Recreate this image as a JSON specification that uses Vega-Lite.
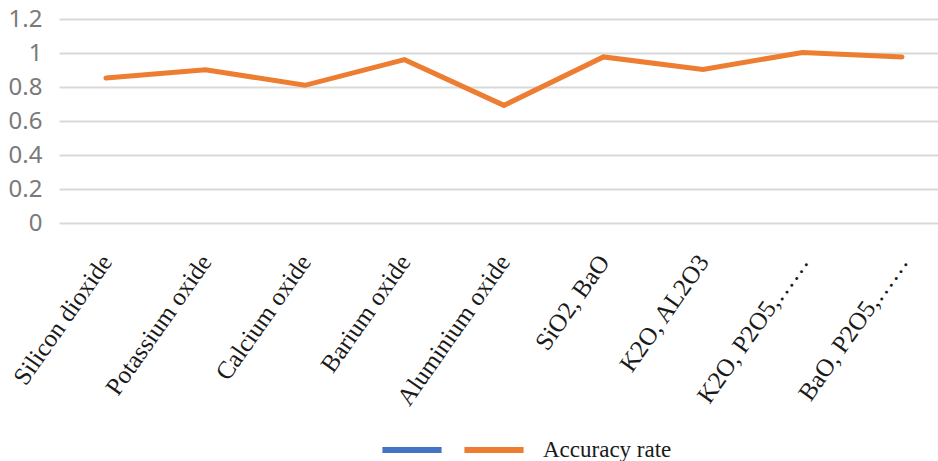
{
  "$schema": "https://vega.github.io/schema/vega-lite/v6.json",
  "autosize": {"type": "none"},
  "padding": {"left": 59, "top": 19, "right": 0, "bottom": 238},
  "width": 879,
  "height": 204,
  "background": "white",
  "config": {"view": {"stroke": null}},
  "data": {
    "values": [
      {"component": "Silicon dioxide", "series": "Accuracy rate", "rate": 0.853},
      {"component": "Potassium oxide", "series": "Accuracy rate", "rate": 0.902},
      {"component": "Calcium oxide", "series": "Accuracy rate", "rate": 0.81},
      {"component": "Barium oxide", "series": "Accuracy rate", "rate": 0.961},
      {"component": "Aluminium oxide", "series": "Accuracy rate", "rate": 0.692},
      {"component": "SiO2, BaO", "series": "Accuracy rate", "rate": 0.977},
      {"component": "K2O, AL2O3", "series": "Accuracy rate", "rate": 0.903},
      {"component": "K2O, P2O5,……", "series": "Accuracy rate", "rate": 1.003},
      {"component": "BaO, P2O5,……", "series": "Accuracy rate", "rate": 0.977}
    ]
  },
  "mark": {"type": "line", "strokeWidth": 5, "strokeCap": "round", "strokeJoin": "miter"},
  "encoding": {
    "x": {
      "field": "component",
      "type": "nominal",
      "sort": null,
      "scale": {"type": "point", "padding": 0.417, "align": 0.566},
      "axis": {
        "title": null,
        "domain": false,
        "ticks": false,
        "grid": false,
        "labelAngle": -55,
        "labelAlign": "right",
        "labelBaseline": "middle",
        "labelPadding": 34,
        "labelFont": "Liberation Serif",
        "labelFontSize": 25,
        "labelColor": "#1a1a1a",
        "labelLimit": 300
      }
    },
    "y": {
      "field": "rate",
      "type": "quantitative",
      "scale": {"domain": [0, 1.2], "nice": false},
      "axis": {
        "title": null,
        "values": [0, 0.2, 0.4, 0.6, 0.8, 1, 1.2],
        "format": "~g",
        "domain": false,
        "ticks": false,
        "gridColor": "#d9d9d9",
        "gridWidth": 2,
        "labelFont": "Noto Sans",
        "labelFontSize": 24,
        "labelColor": "#7a7a7a",
        "labelPadding": 17
      }
    },
    "color": {
      "field": "series",
      "type": "nominal",
      "scale": {"domain": ["", "Accuracy rate"], "range": ["#4472C4", "#ED7D31"]},
      "legend": {
        "title": null,
        "orient": "none",
        "direction": "horizontal",
        "legendX": 320,
        "legendY": 398,
        "symbolType": "stroke",
        "symbolSize": 3500,
        "symbolStrokeWidth": 6,
        "labelFont": "Liberation Serif",
        "labelFontSize": 23,
        "labelColor": "#1a1a1a",
        "labelOffset": 16,
        "columnPadding": -30
      }
    }
  }
}
